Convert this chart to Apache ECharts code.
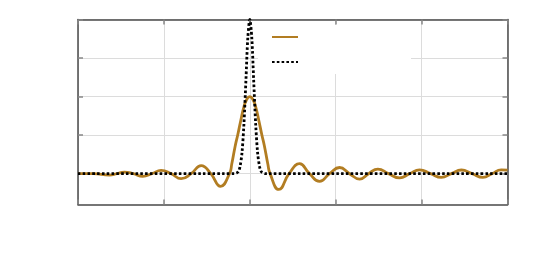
<!DOCTYPE html>
<html>
<head>
<meta charset="utf-8">
<script src="https://cdn.jsdelivr.net/npm/echarts@6/dist/echarts.min.js"></script>
<style>html,body{margin:0;padding:0;background:#fff}#c{width:545px;height:273px}</style>
</head>
<body>
<div id="c"></div>
<script>
// Orange (oscillating) curve: [x, y]
const orangeX = [-2.0, -1.82, -1.634, -1.547, -1.46, -1.355, -1.246, -1.139, -1.032, -0.916, -0.799, -0.683, -0.566, -0.454, -0.341, -0.236, -0.21, -0.17, -0.14, -0.105, -0.07, -0.035, 0,
  0.035, 0.07, 0.105, 0.14, 0.17, 0.21, 0.236, 0.338, 0.457, 0.579, 0.695, 0.812, 0.928, 1.045, 1.161, 1.278, 1.383, 1.491, 1.616, 1.744, 1.86, 1.977, 2.105, 2.23, 2.346, 2.463, 2.588, 2.714, 2.82, 2.927, 3.0];
const orangeY = [0, 0, -0.04, 0, 0.04, 0, -0.07, 0, 0.085, 0, -0.13, 0, 0.21, 0, -0.33, 0, 0.25, 0.72, 1.01, 1.38, 1.72, 1.93, 2.0,
  1.93, 1.72, 1.38, 1.01, 0.72, 0.25, 0, -0.41, 0, 0.26, 0, -0.2, 0, 0.16, 0, -0.14, 0, 0.12, 0, -0.11, 0, 0.10, 0, -0.095, 0, 0.095, 0, -0.095, 0, 0.1, 0.09];
// Black dotted (narrow peak) curve
const blackX = [-2.0, -0.3, -0.182, -0.136, -0.114, -0.091, -0.068, -0.045, -0.023, 0, 0.023, 0.045, 0.068, 0.091, 0.114, 0.136, 0.182, 3.0];
const blackY = [0, 0, 0, 0.044, 0.18, 0.54, 1.30, 2.43, 3.53, 4.0, 3.53, 2.43, 1.30, 0.54, 0.18, 0.044, 0, 0];
const seriesNames = ['sinc', 'gauss'];
const yTicks = [0, 1, 2, 3, 4];

const pair = (xs, ys) => xs.map((x, i) => [x, ys[i]]);
const chart = echarts.init(document.getElementById('c'), null, {renderer: 'canvas'});
const frame = {show: true, onZero: false, lineStyle: {color: '#4a4a4a', width: 1.5}};
const grid = {show: true, lineStyle: {color: '#dcdcdc', width: 1}};
const tick = {show: true, inside: true, length: 5, lineStyle: {color: '#888', width: 1.5}};
chart.setOption({
  animation: false,
  backgroundColor: '#fff',
  grid: {left: 78, right: 37.5, top: 19.5, bottom: 68.5, containLabel: false},
  legend: {
    orient: 'vertical', left: 258, top: 25,
    padding: [6, 76, 6, 13], itemGap: 13,
    itemWidth: 26, itemHeight: 14,
    backgroundColor: '#fff',
    itemStyle: {opacity: 0},
    textStyle: {color: '#fff', fontSize: 12},
    data: seriesNames
  },
  xAxis: [
    {type: 'value', min: -2, max: 3, interval: 1, position: 'bottom',
     axisLine: frame, axisTick: tick, axisLabel: {show: false}, splitLine: grid},
    {type: 'value', min: -2, max: 3, interval: 1, position: 'top',
     axisLine: frame, axisTick: tick, axisLabel: {show: false}, splitLine: {show: false}}
  ],
  yAxis: [
    {type: 'value', min: -0.8, max: 4, position: 'left',
     axisLine: frame, axisTick: Object.assign({customValues: yTicks}, tick),
     axisLabel: {show: false, customValues: yTicks}, splitLine: grid},
    {type: 'value', min: -0.8, max: 4, position: 'right',
     axisLine: frame, axisTick: Object.assign({customValues: yTicks}, tick),
     axisLabel: {show: false, customValues: yTicks}, splitLine: {show: false}}
  ],
  series: [
    {name: seriesNames[0], type: 'line', data: pair(orangeX, orangeY), smooth: 0.5,
     symbol: 'none', lineStyle: {color: '#b27d22', width: 2.8}, itemStyle: {color: '#b27d22'}, z: 3},
    {name: seriesNames[1], type: 'line', data: pair(blackX, blackY), smooth: 0.3,
     symbol: 'none', lineStyle: {color: '#000', width: 2.8, type: [2.6, 2.2]}, itemStyle: {color: '#000'}, z: 4}
  ]
});
</script>
</body>
</html>
